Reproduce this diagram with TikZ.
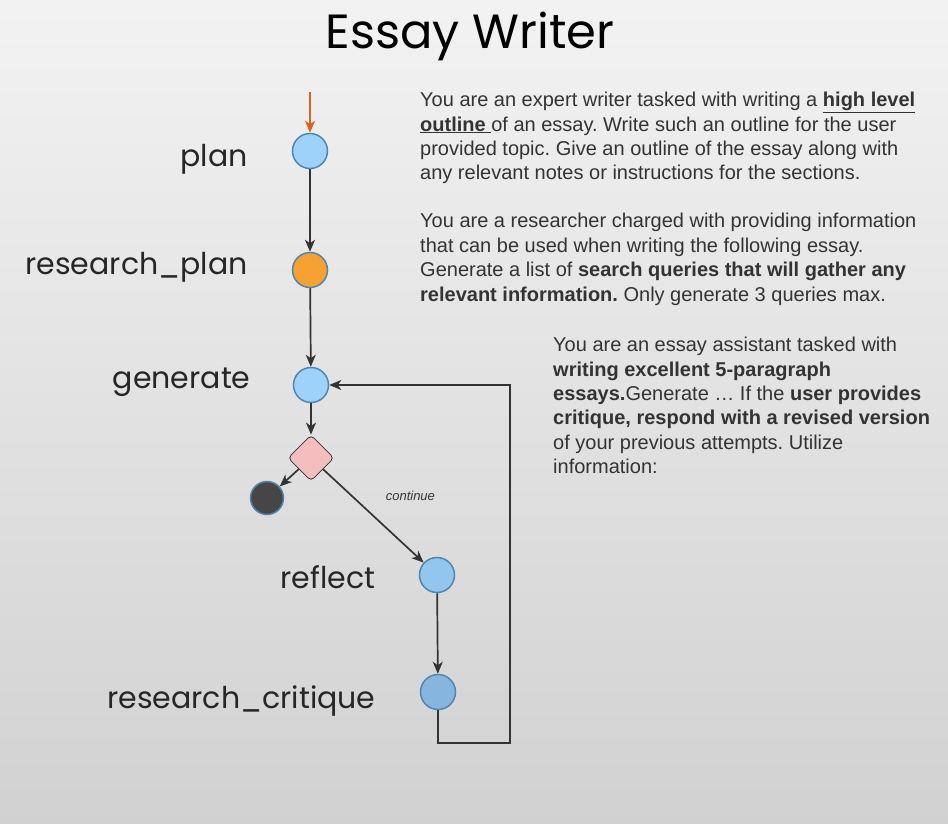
\documentclass[tikz,border=0pt]{standalone}
\usepackage{fontspec}
\setmainfont{Liberation Sans}
\newfontfamily\poppins{Poppins}
\usetikzlibrary{positioning,shapes.geometric,arrows.meta}
\definecolor{stateblue}{HTML}{9FD2FA}
\definecolor{reflectblue}{HTML}{92C6EE}
\definecolor{critblue}{HTML}{86B6DD}
\definecolor{rimblue}{HTML}{4F86B0}
\definecolor{planorange}{HTML}{F7A033}
\definecolor{startorange}{HTML}{D9641A}
\definecolor{decidepink}{HTML}{F5BEBE}
\definecolor{finishgray}{HTML}{464646}
\definecolor{wire}{HTML}{333333}
\tikzset{
    statenode/.style={circle,draw=rimblue,line width=1.5pt,minimum size=35pt,inner sep=0pt},
    decisionnode/.style={diamond,draw=wire,fill=decidepink,line width=0.8pt,rounded corners=4pt,minimum size=46pt,inner sep=0pt},
    tag/.style={font=\poppins\fontsize{30}{33}\selectfont,text=black!85,inner sep=0pt},
    prompt/.style={font=\fontsize{20}{24.4}\selectfont,text=black!80,align=left,anchor=north west,inner sep=0pt},
    flow/.style={wire,line width=1.7pt,-{Stealth[length=12pt,width=10pt,inset=3.5pt]}}
}
\frenchspacing
\begin{document}
\begin{tikzpicture}[x=1pt,y=-1pt]
    \shade[top color=black!5,middle color=black!1,bottom color=black!18] (0,0) rectangle (948,824);
    \useasboundingbox (0,0) rectangle (948,824);
    \node[font=\poppins\fontsize{48}{52}\selectfont] (title) at (470,36) {Essay Writer};
    % graph
    \node[statenode,fill=stateblue] (plan) at (310,151) {};
    \node[statenode,fill=planorange] (researchplan) at (310,270) {};
    \node[statenode,fill=stateblue] (generate) at (311,385) {};
    \node[decisionnode] (decide) at (311,458) {};
    \node[statenode,fill=finishgray,minimum size=33pt] (finish) at (267,498) {};
    \node[statenode,fill=reflectblue] (reflect) at (437,575) {};
    \node[statenode,fill=critblue] (critique) at (438,692) {};
    \coordinate (start) at (310,92);
    \coordinate (loopcorner) at (510,743);
    \node[tag,left=44pt of plan,yshift=-8pt] {plan};
    \node[tag,left=44pt of researchplan,yshift=3pt] {research\_plan};
    \node[tag,left=42pt of generate,yshift=3pt] {generate};
    \node[tag,left=43pt of reflect,yshift=-2pt] {reflect};
    \node[tag,left=44pt of critique,yshift=-9pt] {research\_critique};
    \draw[flow,startorange] (start) -- (plan);
    \draw[flow] (plan) -- (researchplan);
    \draw[flow] (researchplan) -- (generate);
    \draw[flow] (generate) -- (decide);
    \draw[flow] (decide) -- (finish);
    \draw[flow] (decide) -- node[midway,xshift=37pt,yshift=20pt,font=\itshape\fontsize{13}{15}\selectfont,text=black!80] {continue} (reflect);
    \draw[flow] (reflect) -- (critique);
    \draw[flow] (critique.south) |- (loopcorner) |- (generate.east);
    % prompts
    \node[prompt] (planprompt) at (420,92) {You are an expert writer tasked with writing a \underline{\textbf{high level}}\\
        \underline{\textbf{outline} }of an essay. Write such an outline for the user\\
        provided topic. Give an outline of the essay along with\\
        any relevant notes or instructions for the sections.};
    \node[prompt,below=29pt of planprompt.south west,anchor=north west] (researchprompt) {You are a researcher charged with providing information\\
        that can be used when writing the following essay.\\
        Generate a list of \textbf{search queries that will gather any}\\
        \textbf{relevant information.} Only generate 3 queries max.};
    \node[prompt] (generateprompt) at (553,337) {You are an essay assistant tasked with\\
        \textbf{writing excellent 5-paragraph}\\
        \textbf{essays.}Generate \dots{} If the \textbf{user provides}\\
        \textbf{critique, respond with a revised version}\\
        of your previous attempts. Utilize\\
        information:};
\end{tikzpicture}
\end{document}
